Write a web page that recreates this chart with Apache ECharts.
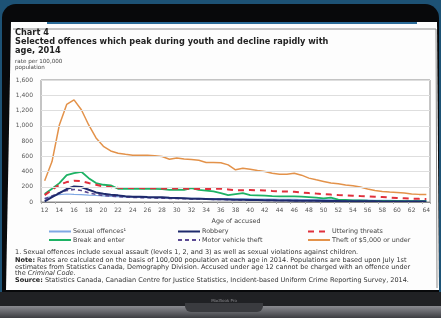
<!DOCTYPE html>
<html>
<head>
<meta charset="utf-8">
<script src="https://cdn.jsdelivr.net/npm/echarts@6/dist/echarts.min.js"></script>
<style>
  html, body { margin: 0; padding: 0; background: #0b0b0d; }
  #chart { width: 441px; height: 318px; }
</style>
</head>
<body>
<div id="chart"></div>
<script>
// age of accused, 12 to 64
const ages = ['12', '13', '14', '15', '16', '17', '18', '19', '20', '21', '22', '23', '24', '25', '26', '27', '28', '29', '30', '31', '32', '33', '34', '35', '36', '37', '38', '39', '40', '41', '42', '43', '44', '45', '46', '47', '48', '49', '50', '51', '52', '53', '54', '55', '56', '57', '58', '59', '60', '61', '62', '63', '64']

// rate per 100,000 population
const sexualOffences = [50, 75, 98, 105, 100, 96, 90, 85, 80, 75, 70, 67, 64, 61, 58, 56, 54, 52, 50, 49, 48, 47, 46, 45, 44, 43, 42, 41, 40, 39, 38, 37, 36, 35, 34, 33, 32, 31, 30, 29, 28, 27, 26, 25, 24, 23, 22, 21, 20, 19, 18, 17, 17]
const robbery = [9, 65, 117, 170, 204, 196, 160, 126, 109, 96, 87, 74, 70, 68, 65, 63, 61, 56, 52, 48, 43, 41, 39, 37, 35, 33, 31, 29, 27, 25, 23, 22, 20, 19, 18, 17, 16, 15, 14, 13, 12, 11, 10, 10, 9, 9, 8, 8, 7, 7, 6, 6, 6]
const utteringThreats = [90, 160, 226, 261, 278, 274, 248, 226, 204, 196, 187, 183, 183, 182, 180, 180, 178, 176, 178, 176, 175, 172, 170, 172, 174, 165, 152, 155, 157, 155, 152, 145, 139, 137, 135, 125, 117, 110, 104, 97, 91, 87, 83, 78, 74, 70, 65, 58, 52, 48, 43, 41, 39]
const breakAndEnter = [104, 174, 248, 352, 378, 396, 313, 248, 226, 218, 174, 174, 174, 176, 174, 172, 170, 160, 162, 160, 183, 160, 148, 139, 117, 91, 104, 117, 91, 87, 83, 78, 74, 74, 74, 70, 65, 57, 48, 57, 30, 26, 22, 20, 17, 15, 13, 13, 13, 12, 12, 12, 12]
const motorVehicleTheft = [40, 80, 120, 150, 165, 150, 120, 100, 85, 77, 70, 65, 60, 57, 55, 52, 50, 48, 45, 43, 41, 39, 37, 35, 33, 31, 29, 27, 25, 24, 22, 21, 20, 19, 18, 17, 16, 15, 14, 13, 12, 11, 10, 9, 9, 8, 7, 7, 6, 6, 5, 5, 5]
const theftUnder5000 = [280, 530, 1010, 1280, 1340, 1210, 1010, 840, 730, 670, 640, 625, 612, 612, 612, 605, 596, 560, 578, 565, 557, 548, 518, 518, 515, 487, 422, 444, 430, 413, 400, 378, 365, 365, 378, 352, 313, 291, 270, 248, 239, 222, 213, 196, 170, 152, 139, 130, 126, 117, 104, 100, 100]

const yTicks = ['0', '200', '400', '600', '800', '1,000', '1,200', '1,400', '1,600']

const font = '"DejaVu Sans", Verdana, sans-serif'
const noteSize = 6.5
const txt = (x, y, text, size, weight, color, align) => ({
  type: 'text', x: x, y: y, z: 5,
  style: { text: text, font: (weight || 'normal') + ' ' + size + 'px ' + font, fill: color || '#222', textVerticalAlign: 'middle', textAlign: align || 'left' }
})
const richTxt = (y, text) => ({
  type: 'text', x: 15, y: y, z: 5,
  style: {
    text: text, font: noteSize + 'px ' + font, fill: '#333', textVerticalAlign: 'middle',
    rich: {
      b: { fontWeight: 'bold', fontSize: noteSize, fontFamily: font, fill: '#222' },
      i: { fontStyle: 'italic', fontSize: noteSize, fontFamily: font, fill: '#333' }
    }
  }
})
const legendBase = {
  orient: 'vertical', top: 228.5, padding: 0, itemGap: 2.5, itemWidth: 22, itemHeight: 7,
  itemStyle: { opacity: 0 },
  textStyle: { fontSize: 6.4, color: '#444', fontFamily: font, padding: [0, 0, 0, -3] }
}

const myChart = echarts.init(document.getElementById('chart'))

const option = {
  backgroundColor: '#1d5275',
  animation: false,
  textStyle: { fontFamily: font },
  graphic: [
    // laptop body
    { type: 'rect', z: 0, shape: { x: 2, y: 4, width: 437, height: 330, r: 14 }, style: { fill: '#08090b' } },
    { type: 'rect', z: 0, shape: { x: 0, y: 292, width: 441, height: 14 }, style: { fill: '#202124' } },
    { type: 'rect', z: 0, shape: { x: 0, y: 306, width: 441, height: 12 },
      style: { fill: new echarts.graphic.LinearGradient(0, 0, 0, 1, [{ offset: 0, color: '#8a8b90' }, { offset: 1, color: '#3c3d41' }]) } },
    { type: 'rect', z: 1, shape: { x: 185, y: 303, width: 78, height: 9, r: [0, 0, 6, 6] }, style: { fill: '#3a3b3f' } },
    txt(224, 301, 'MacBook Pro', 4, 'normal', '#8a8a8e', 'center'),
    // screen panel
    { type: 'polygon', z: 1, shape: { points: [[11, 22], [437, 22], [439, 290], [6, 290]] }, style: { fill: '#fdfdfd' } },
    { type: 'rect', z: 1, shape: { x: 47, y: 22, width: 370, height: 2 }, style: { fill: '#2b6b98' } },
    { type: 'polyline', z: 2, shape: { points: [[13, 29], [436, 29], [437, 288]] }, style: { stroke: '#8c8c8c', lineWidth: 1, fill: null } },
    // titles
    txt(15, 33, 'Chart 4', 8.2, 'bold'),
    txt(15, 42, 'Selected offences which peak during youth and decline rapidly with', 8.2, 'bold'),
    txt(15, 51, 'age, 2014', 8.2, 'bold'),
    txt(15, 62, 'rate per 100,000', 5.6, 'normal', '#444'),
    txt(15, 67.5, 'population', 5.6, 'normal', '#444'),
    txt(236, 221, 'Age of accused', 6.4, 'normal', '#444', 'center'),
    // notes
    txt(15, 252, '1. Sexual offences include sexual assault (levels 1, 2, and 3) as well as sexual violations against children.', noteSize, 'normal', '#333'),
    richTxt(260.5, '{b|Note:} Rates are calculated on the basis of 100,000 population at each age in 2014. Populations are based upon July 1st'),
    txt(15, 267, 'estimates from Statistics Canada, Demography Division. Accused under age 12 cannot be charged with an offence under', noteSize, 'normal', '#333'),
    richTxt(273.5, 'the {i|Criminal Code}.'),
    richTxt(280, '{b|Source:} Statistics Canada, Canadian Centre for Justice Statistics, Incident-based Uniform Crime Reporting Survey, 2014.')
  ],
  legend: [
    Object.assign({ left: 48, data: ['Sexual offences¹', 'Break and enter'] }, legendBase),
    Object.assign({ left: 177, data: ['Robbery', 'Motor vehicle theft'] }, legendBase),
    Object.assign({ left: 307, data: ['Uttering threats', 'Theft of $5,000 or under'] }, legendBase)
  ],
  grid: {
    left: 41, right: 11, top: 80, bottom: 116,
    show: true, borderColor: '#8a8a8a', borderWidth: 1, backgroundColor: '#fff', z: 3
  },
  xAxis: {
    type: 'category',
    data: ages,
    z: 10,
    axisLine: { lineStyle: { color: '#888' } },
    axisTick: { show: true, length: 2, lineStyle: { color: '#aaa' } },
    axisLabel: { interval: 1, fontSize: 6, color: '#555', margin: 5 }
  },
  yAxis: {
    type: 'value',
    min: 0, max: 1600, interval: 200,
    z: 10,
    axisLine: { show: false },
    axisTick: { show: false },
    axisLabel: { fontSize: 6, color: '#555', margin: 8, formatter: v => yTicks[v / 200] },
    splitLine: { lineStyle: { color: '#dedede', width: 1 } }
  },
  series: [
    { name: 'Sexual offences¹', type: 'line', symbol: 'none', data: sexualOffences, z: 4,
      itemStyle: { color: '#7ea7e3' }, lineStyle: { color: '#7ea7e3', width: 1.2 } },
    { name: 'Robbery', type: 'line', symbol: 'none', data: robbery, z: 5,
      itemStyle: { color: '#1e2a6c' }, lineStyle: { color: '#1e2a6c', width: 2 } },
    { name: 'Uttering threats', type: 'line', symbol: 'none', data: utteringThreats, z: 6,
      itemStyle: { color: '#e0303c' }, lineStyle: { color: '#e0303c', width: 2, type: [6, 5] } },
    { name: 'Break and enter', type: 'line', symbol: 'none', data: breakAndEnter, z: 4,
      itemStyle: { color: '#1db264' }, lineStyle: { color: '#1db264', width: 1.8 } },
    { name: 'Motor vehicle theft', type: 'line', symbol: 'none', data: motorVehicleTheft, z: 4,
      itemStyle: { color: '#5b4a93' }, lineStyle: { color: '#5b4a93', width: 1.6, type: [4, 3] } },
    { name: 'Theft of $5,000 or under', type: 'line', symbol: 'none', data: theftUnder5000, z: 4,
      itemStyle: { color: '#e3924a' }, lineStyle: { color: '#e3924a', width: 1.5 } }
  ]
}

myChart.setOption(option)
</script>
</body>
</html>
